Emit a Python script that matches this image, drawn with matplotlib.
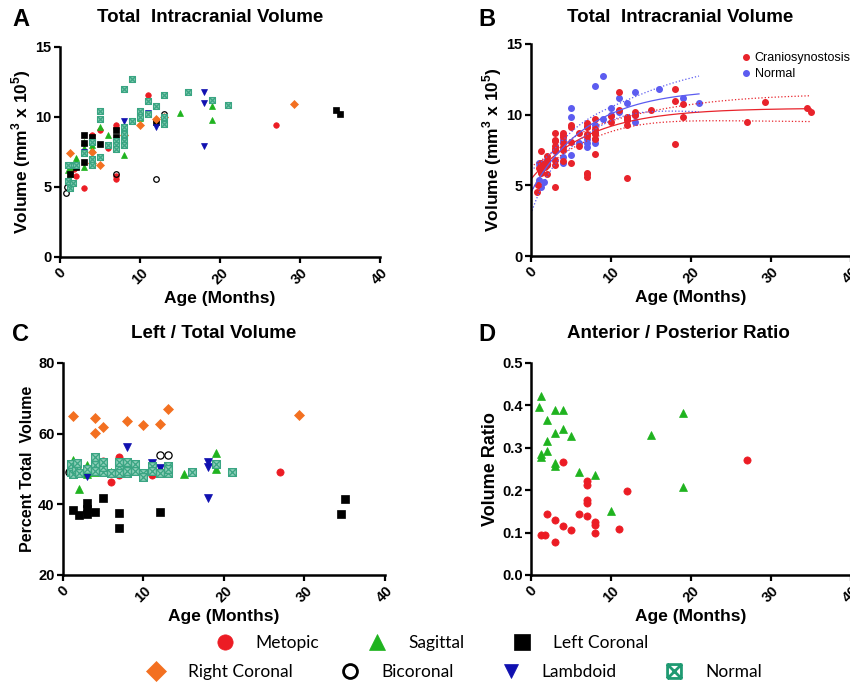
import numpy as np
import matplotlib
matplotlib.use("Agg")
import matplotlib.pyplot as plt
from matplotlib.lines import Line2D
from matplotlib.path import Path

plt.rcParams['font.family'] = ['Liberation Sans', 'DejaVu Sans']
plt.rcParams['font.weight'] = 'bold'
plt.rcParams['axes.labelweight'] = 'bold'
plt.rcParams['mathtext.fontset'] = 'custom'
plt.rcParams['mathtext.rm'] = 'Liberation Sans:bold'
plt.rcParams['mathtext.bf'] = 'Liberation Sans:bold'

# ---- data ----
# ages (months) per group, with panel A (volume x1e5 mm3), C (% left) and D (ratio) values
metopic_age = [1.25, 1.75, 2, 3, 3, 4, 4, 5, 6, 7, 7, 7, 7, 7, 8, 8, 8, 11, 12, 27]
metopic_vol = [6.0, 6.3, 5.8, 4.9, 7.6, 8.7, 8.4, 9.1, 7.75, 9.4, 9.2, 8.5, 5.8, 5.6, 8.6, 8.3, 9.0, 11.6, 9.7, 9.45]
metopic_left = [49.5, 50.5, 49.0, 49.5, 50.0, 50.5, 51.5, 52.3, 46.4, 53.5, 51.0, 49.5, 48.3, 50.0, 49.5, 50.0, 50.8, 48.2, 49.5, 49.0]
metopic_ratio = [0.094, 0.094, 0.144, 0.130, 0.077, 0.266, 0.116, 0.106, 0.143, 0.222, 0.212, 0.176, 0.169, 0.140,
                 0.124, 0.118, 0.099, 0.109, 0.197, 0.270]

sagittal_age = [1, 1.2, 1.2, 1.2, 2, 2, 2, 3, 3, 3, 3, 4, 4, 5, 6, 8, 10, 15, 19, 19]
sagittal_vol = [6.2, 6.4, 5.9, 6.6, 7.1, 6.5, 6.8, 6.45, 7.8, 7.5, 8.2, 7.7, 8.0, 9.3, 8.7, 7.25, 9.9, 10.3, 10.75, 9.8]
sagittal_left = [50.5, 52.5, 49.5, 51.0, 44.4, 50.0, 49.0, 50.5, 51.0, 49.0, 48.5, 50.5, 49.0, 50.0, 49.0, 50.0,
                 48.5, 48.6, 54.6, 50.0]
sagittal_ratio = [0.396, 0.423, 0.286, 0.278, 0.365, 0.315, 0.293, 0.389, 0.335, 0.264, 0.256, 0.389, 0.344, 0.327,
                  0.242, 0.236, 0.152, 0.331, 0.382, 0.207]

lcoronal_age = [1.2, 2, 3, 3, 3, 4, 5, 7, 7, 12, 34.5, 35]
lcoronal_vol = [5.95, 6.45, 8.7, 8.15, 6.8, 8.55, 8.1, 9.1, 8.6, 9.65, 10.5, 10.2]
lcoronal_left = [38.4, 37.0, 40.3, 38.6, 37.3, 37.9, 41.9, 37.5, 33.2, 37.9, 37.3, 41.4]

rcoronal_age = [1.2, 4, 4, 5, 8, 10, 12, 13, 29.3]
rcoronal_vol = [7.45, 7.5, 6.7, 6.55, 8.7, 9.45, 9.85, 10.0, 10.9]
rcoronal_left = [64.9, 64.4, 60.3, 61.9, 63.6, 62.3, 62.7, 67.0, 65.2]

bicoronal_age = [0.7, 0.9, 7, 12, 13]
bicoronal_vol = [4.55, 5.0, 5.9, 5.55, 10.2]
bicoronal_left = [49.0, 49.5, 50.0, 54.0, 54.0]

lambdoid_age = [3, 8, 11, 12, 18, 18, 18]
lambdoid_vol = [7.5, 9.7, 10.3, 9.25, 11.8, 11.0, 7.95]
lambdoid_left = [47.9, 56.2, 51.6, 50.2, 52.0, 50.6, 41.7]

normal_age = [1, 1, 1.3, 1.6, 1.8, 2, 3, 4, 4, 4, 5, 5, 5, 6, 7, 7, 7, 8, 8, 8, 8, 8, 9, 9, 10, 10,
              11, 11, 12, 13, 13, 13, 16, 19, 21]
normal_vol = [6.55, 5.4, 4.9, 5.26, 6.55, 6.6, 7.4, 8.2, 7.0, 6.55, 10.45, 9.86, 7.15, 7.97, 8.3, 7.97, 7.7,
              12.0, 9.27, 8.8, 8.3, 8.0, 12.7, 9.7, 10.45, 10.0, 11.15, 10.2, 10.8, 11.6, 10.0, 9.5, 11.8, 11.2, 10.85]
normal_left = [51.5, 49.0, 48.5, 50.0, 51.6, 48.8, 50.0, 53.5, 51.2, 49.5, 49.0, 50.5, 52.0, 48.8, 50.7, 48.8,
               52.0, 51.6, 48.8, 50.0, 49.5, 52.0, 51.5, 49.5, 48.8, 47.8, 50.7, 49.5, 48.8, 50.7, 48.8, 50.0,
               49.0, 51.5, 49.0]

x_ticks = [0, 10, 20, 30, 40]

# ---- marker styles ----
box_x = Path([(-1, -1), (1, -1), (1, 1), (-1, 1), (-1, -1), (-1, -1), (1, 1), (-1, 1), (1, -1)],
             [Path.MOVETO, Path.LINETO, Path.LINETO, Path.LINETO, Path.LINETO,
              Path.MOVETO, Path.LINETO, Path.MOVETO, Path.LINETO])

styles = {
    'Metopic': dict(marker='o', color='#ec1c24', mec='#ec1c24'),
    'Sagittal': dict(marker='^', color='#1fb31f', mec='#1fb31f'),
    'Left Coronal': dict(marker='s', color='black', mec='black'),
    'Right Coronal': dict(marker='D', color='#f37021', mec='#f37021'),
    'Bicoronal': dict(marker='o', color='white', mec='black', mfc='none'),
    'Lambdoid': dict(marker='v', color='#1010b0', mec='#1010b0'),
    'Normal': dict(marker=box_x, color='#8fd0b9', mec='#3aa583'),
}

groups_a = [('Metopic', metopic_age, metopic_vol), ('Sagittal', sagittal_age, sagittal_vol),
            ('Left Coronal', lcoronal_age, lcoronal_vol), ('Right Coronal', rcoronal_age, rcoronal_vol),
            ('Bicoronal', bicoronal_age, bicoronal_vol), ('Lambdoid', lambdoid_age, lambdoid_vol),
            ('Normal', normal_age, normal_vol)]
groups_c = [('Metopic', metopic_age, metopic_left), ('Sagittal', sagittal_age, sagittal_left),
            ('Left Coronal', lcoronal_age, lcoronal_left), ('Right Coronal', rcoronal_age, rcoronal_left),
            ('Bicoronal', bicoronal_age, bicoronal_left), ('Lambdoid', lambdoid_age, lambdoid_left),
            ('Normal', normal_age, normal_left)]


def style_axes(ax, ylim, yticks):
    ax.set_xlim(0, 40)
    ax.set_ylim(*ylim)
    ax.set_xticks(x_ticks)
    ax.set_yticks(yticks)
    for s in ['top', 'right']:
        ax.spines[s].set_visible(False)
    for s in ['left', 'bottom']:
        ax.spines[s].set_linewidth(1.8)
    ax.tick_params(width=1.6, length=4, labelsize=10.5, pad=2)
    for lab in ax.get_xticklabels():
        lab.set_rotation(45)
        lab.set_ha('center')
        lab.set_va('top')
        lab.set_fontweight('bold')
    for lab in ax.get_yticklabels():
        lab.set_fontweight('bold')
    ax.set_xlabel('Age (Months)', fontsize=12.5, labelpad=3, fontweight='bold')


def draw_group(ax, name, x, y, ms):
    st = dict(styles[name])
    mfc = st.pop('mfc', st['color'])
    ax.plot(x, y, ls='none', marker=st['marker'], mfc=mfc, mec=st['mec'],
            ms=ms, mew=0.9 if name in ('Normal', 'Bicoronal') else 0.5, clip_on=False)


def fit_assoc(x, y):
    # one-phase association fit: y = P + (Y0 - P) * exp(-k x), with 95% band
    x = np.asarray(x, float)
    y = np.asarray(y, float)
    best = None
    for k in np.linspace(0.02, 1.0, 981):
        e = np.exp(-k * x)
        M = np.column_stack([e, 1 - e])
        coef = np.linalg.lstsq(M, y, rcond=None)[0]
        sse = np.sum((M @ coef - y) ** 2)
        if best is None or sse < best[0]:
            best = (sse, coef[0], coef[1], k)
    sse, y0, plat, k = best

    def jac(t):
        e = np.exp(-k * t)
        return np.column_stack([e, 1 - e, -(y0 - plat) * t * e])

    J = jac(x)
    cov = sse / (len(x) - 3) * np.linalg.inv(J.T @ J)
    xs = np.linspace(0, x.max(), 200)
    Js = jac(xs)
    f = plat + (y0 - plat) * np.exp(-k * xs)
    se = np.sqrt(np.einsum('ij,jk,ik->i', Js, cov, Js))
    return xs, f, f - 1.98 * se, f + 1.98 * se


fig = plt.figure(figsize=(8.5, 6.84), dpi=100)
axA = fig.add_axes([0.0706, 0.6243, 0.3765, 0.307])
axB = fig.add_axes([0.6247, 0.6257, 0.3765, 0.310])
axC = fig.add_axes([0.0741, 0.1594, 0.3788, 0.310])
axD = fig.add_axes([0.6247, 0.1594, 0.3765, 0.310])

# A
for name, x, y in groups_a:
    draw_group(axA, name, x, y, 4.2 if name == 'Normal' else 4.0)
style_axes(axA, (0, 15), [0, 5, 10, 15])
axA.set_ylabel('Volume (mm$^3$ x 10$^5$)', fontsize=12.5, labelpad=2)

# B
cranio_age = [a for n, x, y in groups_a if n != 'Normal' for a in x]
cranio_vol = [v for n, x, y in groups_a if n != 'Normal' for v in y]
red, blue = '#e8232b', '#5c5cf0'
axB.plot(normal_age, normal_vol, ls='none', marker='o', ms=4, mfc=blue, mec=blue, label='Normal')
axB.plot(cranio_age, cranio_vol, ls='none', marker='o', ms=4, mfc=red, mec=red, label='Craniosynostosis')
for x, y, c in [(cranio_age, cranio_vol, red), (normal_age, normal_vol, blue)]:
    xs, f, lo, hi = fit_assoc(x, y)
    axB.plot(xs, f, color=c, lw=0.9)
    axB.plot(xs, lo, color=c, lw=0.9, ls=':')
    axB.plot(xs, hi, color=c, lw=0.9, ls=':')
style_axes(axB, (0, 15), [0, 5, 10, 15])
axB.set_ylabel('Volume (mm$^3$ x 10$^5$)', fontsize=12.5, labelpad=2)
hs, ls_ = axB.get_legend_handles_labels()
axB.legend([hs[1], hs[0]], [ls_[1], ls_[0]], loc='upper left', bbox_to_anchor=(0.64, 0.99),
           frameon=False, prop=dict(weight='normal', size=9), handlelength=0.6,
           handletextpad=0.4, borderpad=0, labelspacing=0.3)

# C
for name, x, y in groups_c:
    draw_group(axC, name, x, y, 5.6 if name == 'Normal' else 5.2)
style_axes(axC, (20, 80), [20, 40, 60, 80])
axC.set_ylabel('Percent Total  Volume', fontsize=11.5, labelpad=2)

# D
draw_group(axD, 'Metopic', metopic_age, metopic_ratio, 5.2)
draw_group(axD, 'Sagittal', sagittal_age, sagittal_ratio, 5.2)
style_axes(axD, (0, 0.5), [0.0, 0.1, 0.2, 0.3, 0.4, 0.5])
axD.set_yticklabels(['0.0', '0.1', '0.2', '0.3', '0.4', '0.5'], fontweight='bold')
axD.set_ylabel('Volume Ratio', fontsize=13, labelpad=2)

# titles and panel letters
title_kw = dict(fontsize=13.5, fontweight='bold', ha='center', va='center')
fig.text(210 / 850, 1 - 17 / 684, 'Total  Intracranial Volume', **title_kw)
fig.text(680 / 850, 1 - 17 / 684, 'Total  Intracranial Volume', **title_kw)
fig.text(214 / 850, 1 - 333 / 684, 'Left / Total Volume', **title_kw)
fig.text(678 / 850, 1 - 333 / 684, 'Anterior / Posterior Ratio', **title_kw)
letter_kw = dict(fontsize=17, fontweight='bold', ha='left', va='center')
fig.text(12 / 850, 1 - 19 / 684, 'A', **letter_kw)
fig.text(478 / 850, 1 - 19 / 684, 'B', **letter_kw)
fig.text(12 / 850, 1 - 335 / 684, 'C', **letter_kw)
fig.text(478 / 850, 1 - 335 / 684, 'D', **letter_kw)


# shared legend, two rows
def handle(name, ms):
    st = dict(styles[name])
    mfc = st.pop('mfc', st['color'])
    if name == 'Normal':
        mfc = 'white'
        st['mec'] = '#1f9a72'
    return Line2D([], [], ls='none', marker=st['marker'], mfc=mfc, mec=st['mec'], ms=ms,
                  mew=2.0 if name in ('Normal', 'Bicoronal') else 0.5)


leg_kw = dict(frameon=False, prop=dict(family='Lato', weight='normal', size=12.5),
              handlelength=1.0, handletextpad=1.3, columnspacing=2.8, borderpad=0)
row1 = ['Metopic', 'Sagittal', 'Left Coronal']
row2 = ['Right Coronal', 'Bicoronal', 'Lambdoid', 'Normal']
fig.legend([handle(n, 11) for n in row1], row1, loc='center', ncol=3,
           bbox_to_anchor=(432 / 850, 1 - 643 / 684), **leg_kw)
fig.legend([handle(n, 10) for n in row2], row2, loc='center', ncol=4,
           bbox_to_anchor=(455 / 850, 1 - 672 / 684), **leg_kw)

fig.savefig('out.png', dpi=100)
